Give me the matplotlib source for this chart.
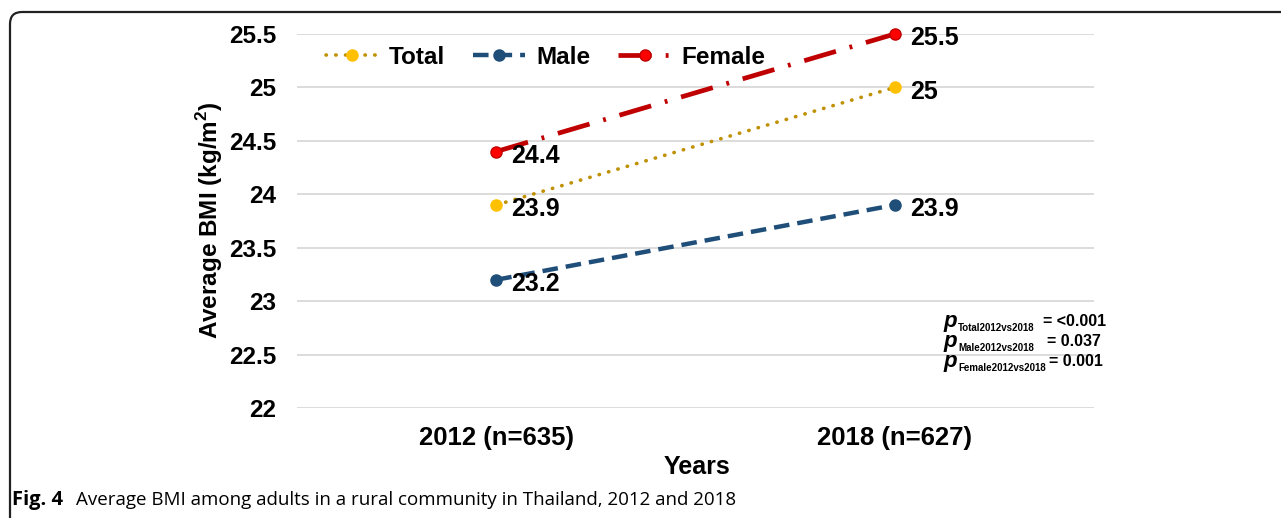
import matplotlib
matplotlib.use("Agg")
import matplotlib.pyplot as plt
import matplotlib.patches as mpatches
import matplotlib.transforms as mtransforms

W, H = 1281, 518

years = ["2012 (n=635)", "2018 (n=627)"]
total = [23.9, 25.0]
male = [23.2, 23.9]
female = [24.4, 25.5]
total_lbl = ["23.9", "25"]
male_lbl = ["23.2", "23.9"]
female_lbl = ["24.4", "25.5"]
yticks = [22, 22.5, 23, 23.5, 24, 24.5, 25, 25.5]
ytick_lbl = ["22", "22.5", "23", "23.5", "24", "24.5", "25", "25.5"]
p_groups = ["Total2012vs2018", "Male2012vs2018", "Female2012vs2018"]
p_values = ["= <0.001", "= 0.037", "= 0.001"]

plt.rcParams["font.family"] = ["Liberation Sans", "DejaVu Sans"]
plt.rcParams["font.weight"] = "bold"
plt.rcParams["mathtext.fontset"] = "custom"
plt.rcParams["mathtext.rm"] = "Liberation Sans:bold"
plt.rcParams["mathtext.bf"] = "Liberation Sans:bold"

fig = plt.figure(figsize=(W / 100, H / 100), dpi=100)
ax = fig.add_axes([297 / W, 1 - 408 / H, (1094 - 297) / W, (408 - 34) / H])

x = list(range(len(years)))

ax.plot(x, total, color="#BF9000", lw=2.6, linestyle=(0, (0.1, 2.6)),
        dash_capstyle="round", marker="o", ms=8, mfc="#FFC000", mec="#FFC000",
        label="Total", clip_on=False, zorder=3)
ax.plot(x, male, color="#1F4E79", lw=3.2, linestyle=(0, (3.5, 1.8)),
        marker="o", ms=8, mfc="#1F4E79", mec="#1F4E79",
        label="Male", clip_on=False, zorder=3)
ax.plot(x, female, color="#C00000", lw=3.4, linestyle=(0, (7, 3, 0.6, 3)),
        marker="o", ms=8, mfc="#FF0000", mec="#C00000",
        label="Female", clip_on=False, zorder=3)

# value labels to the right of each point
for vals, lbls in [(total, total_lbl), (male, male_lbl), (female, female_lbl)]:
    for xi, v, s in zip(x, vals, lbls):
        ax.annotate(s, (xi, v), xytext=(11, -3), textcoords="offset points",
                    ha="left", va="center", fontsize=18, fontweight="bold")

ax.set_xlim(-0.5, 1.5)
ax.set_ylim(22, 25.5)
ax.set_yticks(yticks)
ax.set_yticklabels(ytick_lbl, fontsize=17.5, fontweight="bold")
ax.set_xticks(x)
ax.set_xticklabels(years, fontsize=18.5, fontweight="bold")
ax.tick_params(axis="y", length=0, pad=15)
ax.tick_params(axis="x", length=0, pad=13)
ax.grid(axis="y", color="#D9D9D9", lw=1.3)
ax.set_axisbelow(True)
for sp in ax.spines.values():
    sp.set_visible(False)

fig.text(210 / W, 1 - 220 / H, "Average BMI (kg/m$^{2}$)", rotation=90,
         ha="center", va="center", fontsize=17.5, fontweight="bold")
fig.text(697 / W, 1 - 467 / H, "Years", ha="center", va="center",
         fontsize=18, fontweight="bold")

leg = ax.legend(loc="center left", bbox_to_anchor=(316 / W, 1 - 57 / H),
                bbox_transform=fig.transFigure, ncol=3, frameon=False,
                fontsize=17.5, handlelength=2.15, handletextpad=0.45,
                columnspacing=1.15, borderaxespad=0)
for t in leg.get_texts():
    t.set_fontweight("bold")

# significance notes
for i, (g, v) in enumerate(zip(p_groups, p_values)):
    yb = 1 - (327 + i * 20) / H
    fig.text(943 / W, yb, "p", fontsize=16, fontweight="bold", style="italic",
             va="baseline")
    fig.text(958 / W, yb - 4 / H, g, fontsize=7, fontweight="bold", va="baseline")
    fig.text((1043 + [0, 4, 6][i]) / W, yb + 1 / H, v, fontsize=11.5,
             fontweight="bold", va="baseline")

# caption
fig.text(12 / W, 1 - 500 / H, "Fig. 4", fontsize=14.5, fontweight="bold",
         family="Open Sans", va="center")
fig.text(76 / W, 1 - 500 / H,
         "Average BMI among adults in a rural community in Thailand, 2012 and 2018",
         fontsize=13.5, fontweight="normal", family="Open Sans", va="center")

# rounded frame around the figure panel
frame = mpatches.FancyBboxPatch((10, -30), 1320, H - 12 + 30,
                                boxstyle="round,pad=0,rounding_size=12",
                                transform=mtransforms.IdentityTransform(),
                                fill=False, ec="#222222", lw=1.6)
fig.add_artist(frame)

fig.savefig("out.png", dpi=100)
